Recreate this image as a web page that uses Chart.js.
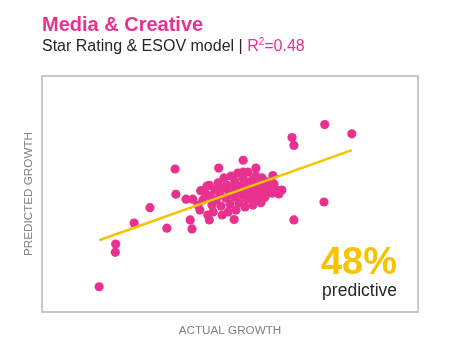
<!DOCTYPE html>
<html>
<head>
<meta charset="utf-8">
<script src="https://cdn.jsdelivr.net/npm/chart.js@4"></script>
<style>
  html, body { margin: 0; padding: 0; background: #fff; }
  #wrap { width: 462px; height: 364px; }
</style>
</head>
<body>
<div id="wrap"><canvas id="scatterChart" width="462" height="364"></canvas></div>
<script>
// actual vs predicted growth (axis units 0-100, no ticks shown)
var actualGrowth = [
  15.2, 19.6, 19.5, 24.5, 28.7, 33.2, 35.4, 35.6, 39.9, 39.4, 38.3, 40.1, 47.0, 53.5, 51.1,
  44.5, 42.2, 44.5, 56.9, 53.5, 75.2, 82.4, 66.5, 67.0, 75.0, 67.0, 63.0, 61.4, 58.2,
  41.5, 42.0, 42.8, 43.4, 43.9, 44.7, 45.2, 45.5, 46.0, 46.3, 46.8, 47.3, 47.6, 48.1, 48.4,
  48.9, 49.2, 49.7, 50.0, 50.3, 50.8, 51.1, 51.3, 51.9, 52.1, 52.4, 52.7, 53.2, 53.5, 53.7,
  54.3, 54.5, 54.8, 55.3, 55.6, 55.9, 56.4, 56.6, 56.9, 57.4, 57.7, 58.2, 58.5, 59.0, 59.3,
  59.8, 60.1, 60.6, 61.2, 61.7, 62.2, 63.0, 63.8, 47.9, 51.6, 54.0, 56.1, 44.1, 49.5, 58.5
]
var predictedGrowth = [
  10.7, 28.8, 25.3, 37.7, 44.2, 35.5, 60.6, 49.9, 35.2, 39.0, 47.8, 47.8, 61.0, 64.3, 39.2,
  39.0, 51.4, 53.7, 61.0, 59.3, 79.4, 75.5, 73.9, 70.6, 46.6, 39.0, 50.0, 57.8, 46.3,
  45.3, 43.2, 47.5, 50.4, 53.4, 49.2, 45.3, 42.4, 51.7, 47.5, 54.7, 49.6, 44.9, 52.5, 56.8,
  48.3, 53.8, 50.8, 45.8, 57.6, 52.5, 48.7, 55.5, 50.8, 58.9, 46.2, 53.4, 49.6, 56.8, 51.7,
  54.7, 47.9, 59.3, 52.5, 50.0, 55.9, 53.4, 48.3, 57.6, 51.7, 54.7, 50.0, 56.8, 52.5, 48.7,
  55.1, 51.7, 53.4, 50.4, 54.2, 51.7, 51.3, 51.7, 41.1, 43.2, 44.5, 45.3, 41.1, 42.4, 47.5
]
// fitted line end points
var fitX = [15.2, 82.4]
var fitY = [30.4, 68.6]

var pink = '#e9318f'
var yellow = '#f7c300'
var fontFamily = "'Liberation Sans', Arial, sans-serif"

var points = actualGrowth.map(function (x, i) { return { x: x, y: predictedGrowth[i] } })
var fitLine = fitX.map(function (x, i) { return { x: x, y: fitY[i] } })

// frame, titles and annotations
var decorPlugin = {
  id: 'decor',
  beforeDatasetsDraw: function (chart) {
    var ctx = chart.ctx
    var a = chart.chartArea
    ctx.save()
    ctx.strokeStyle = '#c9c9c9'
    ctx.lineWidth = 2
    ctx.strokeRect(a.left, a.top, a.right - a.left, a.bottom - a.top)
    ctx.restore()
  },
  afterDraw: function (chart) {
    var ctx = chart.ctx
    var a = chart.chartArea
    ctx.save()
    ctx.textBaseline = 'alphabetic'

    ctx.fillStyle = pink
    ctx.font = 'bold 20px ' + fontFamily
    ctx.fillText('Media & Creative', 42, 31)

    ctx.font = '16px ' + fontFamily
    ctx.fillStyle = '#262626'
    var sub = 'Star Rating & ESOV model | '
    ctx.fillText(sub, 42, 51)
    var x = 42 + ctx.measureText(sub).width
    ctx.fillStyle = pink
    ctx.fillText('R', x, 51)
    x += ctx.measureText('R').width
    ctx.font = '10px ' + fontFamily
    ctx.fillText('2', x, 45)
    x += ctx.measureText('2').width
    ctx.font = '16px ' + fontFamily
    ctx.fillText('=0.48', x, 51)

    ctx.textAlign = 'right'
    ctx.fillStyle = yellow
    ctx.font = 'bold 38px ' + fontFamily
    ctx.fillText('48%', 397, 274)
    ctx.fillStyle = '#262626'
    ctx.font = '17.5px ' + fontFamily
    ctx.fillText('predictive', 397, 296)

    ctx.textAlign = 'center'
    ctx.fillStyle = '#808080'
    ctx.font = '11.7px ' + fontFamily
    ctx.fillText('ACTUAL GROWTH', (a.left + a.right) / 2, 334)

    ctx.translate(32, (a.top + a.bottom) / 2)
    ctx.rotate(-Math.PI / 2)
    ctx.fillText('PREDICTED GROWTH', 0, 0)
    ctx.restore()
  }
}

var chart = new Chart(document.getElementById('scatterChart').getContext('2d'), {
  type: 'scatter',
  data: {
    datasets: [
      {
        label: 'Fit',
        type: 'line',
        data: fitLine,
        borderColor: yellow,
        borderWidth: 2.5,
        pointRadius: 0,
        fill: false,
        order: 0
      },
      {
        label: 'Brands',
        data: points,
        backgroundColor: pink,
        borderWidth: 0,
        pointRadius: 4.6,
        pointHoverRadius: 4.6,
        order: 1
      }
    ]
  },
  options: {
    responsive: false,
    animation: false,
    layout: { padding: { left: 42, right: 44, top: 76, bottom: 52 } },
    plugins: {
      legend: { display: false },
      tooltip: { enabled: false }
    },
    scales: {
      x: { type: 'linear', min: 0, max: 100, display: false },
      y: { type: 'linear', min: 0, max: 100, display: false }
    }
  },
  plugins: [decorPlugin]
})
</script>
</body>
</html>
